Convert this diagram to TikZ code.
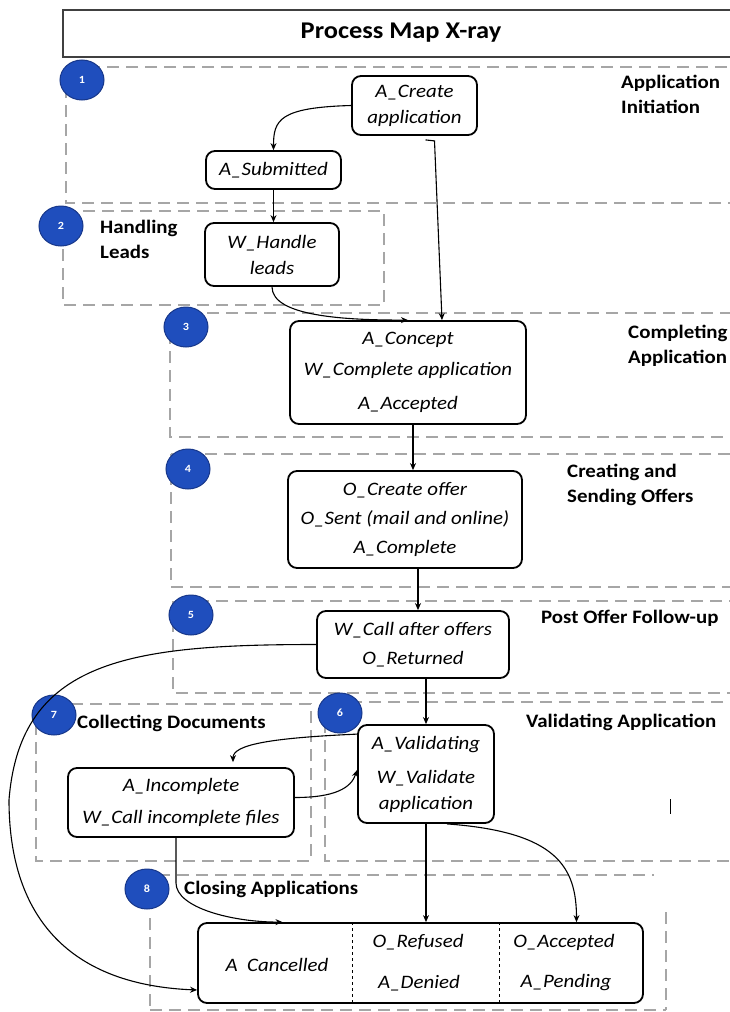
\documentclass[tikz,border=0pt]{standalone}
\usepackage{fontspec}
\setmainfont{Carlito}[FakeStretch=1.1]
\usepackage{xcolor}
\usetikzlibrary{arrows.meta,shapes.geometric,calc}
\definecolor{BadgeBlue}{HTML}{1F4EBD}
\definecolor{BadgeEdge}{HTML}{17378A}
\definecolor{RegionGray}{HTML}{A6A6A6}
\tikzset{
  stage/.style={draw, line width=1.8pt, rounded corners=9pt, align=center, inner sep=0pt,
    font=\fontsize{19}{26}\selectfont\itshape},
  cell/.style={inner sep=0pt, font=\fontsize{19}{26}\selectfont\itshape},
  region/.style={draw=RegionGray, line width=2.4pt, dash pattern=on 12pt off 7pt},
  badge/.style={ellipse, fill=BadgeBlue, draw=BadgeEdge, line width=1pt, minimum width=44pt,
    minimum height=40pt, inner sep=0pt, text=white, font=\fontsize{11}{13}\selectfont\bfseries},
  phase/.style={anchor=west, align=left, inner sep=0pt, font=\fontsize{19}{25}\selectfont\bfseries},
  flow/.style={-{Stealth[length=7pt,width=6pt]}, line width=1.1pt},
  mainflow/.style={flow, line width=1.8pt}
}

\begin{document}
\begin{tikzpicture}[x=1pt,y=-1pt]
    \useasboundingbox (0,0) rectangle (730,1012);
    \clip (0,0) rectangle (730,1012);

    \foreach \xa/\ya/\xb/\yb in {66/67/745/203, 63/211/384/305, 170/313/745/437,
      171/454/745/587, 173/601/745/693, 36/704/311/861, 325/702/745/861} {
     \draw[region] (\xa,\ya) rectangle (\xb,\yb);
    }
    \draw[region] (158,875) -- (654,875);
    \draw[region] (150,918) -- (150,1012);
    \draw[region] (666,912) -- (666,1010);
    \draw[region] (150,1010) -- (666,1010);

    \draw[draw=black!75, line width=1.4pt] (63,10) rectangle (745,57);
    \node[font=\fontsize{24}{28}\selectfont\bfseries] (title) at (401,33) {Process Map X-ray};

    \node[stage, minimum width=125pt, minimum height=59pt] (create) at (414.5,105.5) {A\_Create\\application};
    \node[stage, minimum width=135pt, minimum height=38pt] (submit) at (273.5,170) {A\_Submitted};
    \node[stage, minimum width=134pt, minimum height=63pt] (handle) at (272,254.5) {W\_Handle\\leads};
    \node[stage, minimum width=236pt, minimum height=103pt] (concept) at (408,372.5)
      {A\_Concept\\[5pt]W\_Complete application\\[8pt]A\_Accepted};
    \node[stage, minimum width=234pt, minimum height=97pt] (offer) at (405,519.5)
      {O\_Create offer\\[3pt]O\_Sent (mail and online)\\[3pt]A\_Complete};
    \node[stage, minimum width=192pt, minimum height=67pt] (follow) at (413,644.5)
      {W\_Call after offers\\[3pt]O\_Returned};
    \node[stage, minimum width=136pt, minimum height=98pt] (valid) at (426,774)
      {A\_Validating\\[8pt]W\_Validate\\application};
    \node[stage, minimum width=226pt, minimum height=69pt] (incomplete) at (181,802.5)
      {A\_Incomplete\\[6pt]W\_Call incomplete files};
    \node[stage, minimum width=445pt, minimum height=80pt] (close) at (420.5,963) {};

    \draw[dashed, line width=0.6pt] ([xshift=-68.5pt]close.north) -- ([xshift=-68.5pt]close.south);
    \draw[dashed, line width=0.6pt] ([xshift=78.5pt]close.north) -- ([xshift=78.5pt]close.south);
    \node[cell] (cancel) at (277,965) {A\ \ Cancelled};
    \node[cell] (refused) at (418,942) {O\_Refused};
    \node[cell] (denied) at (419,983) {A\_Denied};
    \node[cell] (accepted) at (564,942) {O\_Accepted};
    \node[cell] (pending) at (566,983) {A\_Pending};

    \foreach \n/\x/\y in {1/82/80, 2/61/226, 3/186/327, 4/188/469, 5/191/615, 6/340/713, 7/54/715, 8/147/889} {
     \node[badge] (badge\n) at (\x,\y) {\n};
    }

    \node[phase] (initiation) at (621,94.5) {Application\\Initiation};
    \node[phase] (leads) at (100,239.5) {Handling\\Leads};
    \node[phase] (completing) at (628,345.5) {Completing\\Application};
    \node[phase] (creating) at (567,484.5) {Creating and\\Sending Offers};
    \node[phase] (followup) at (541,618) {Post Offer Follow-up};
    \node[phase] (collecting) at (77,723) {Collecting Documents};
    \node[phase] (validating) at (526,722) {Validating Application};
    \node[phase] (closing) at (184,889) {Closing Applications};

    \draw[flow] (create.west) .. controls +(-72,2) and +(0,-30) .. (submit.north);
    \draw[flow] (submit.south) -- (submit.south |- handle.north);
    \draw[flow] ([xshift=11pt,yshift=-4pt]create.south) -- ++(9,1) -- ([xshift=34pt]concept.north);
    \draw[flow] (handle.south) .. controls +(0,30) and +(-60,0) .. (concept.north);
    \draw[mainflow] ([xshift=5pt]concept.south) -- ([xshift=5pt]concept.south |- offer.north);
    \draw[mainflow] ([xshift=13pt]offer.south) -- ([xshift=13pt]offer.south |- follow.north);
    \draw[mainflow] (valid.north |- follow.south) -- (valid.north);
    \coordinate (loop) at (9,800);
    \draw[flow] (follow.west) .. controls +(-187,0) and +(11,-140) .. (loop)
      .. controls +(0,120) and +(-125,-5) .. ([yshift=-27pt]close.west);
    \draw[flow, shorten >=5pt] ([yshift=-10pt]valid.north west) .. controls +(-90,4) and +(0,-22) .. ([xshift=52pt]incomplete.north);
    \draw[flow] ([yshift=5pt]incomplete.east) .. controls +(40,0) and +(-6,18) .. ([yshift=4pt]valid.west);
    \draw[flow] ([xshift=-5pt]incomplete.south) -- ++(0,45) .. controls +(0,25) and +(-50,0) .. ([xshift=-138pt]close.north);
    \draw[flow] (valid.south) -- (valid.south |- close.north);
    \draw[flow] ([xshift=21pt]valid.south) .. controls +(110,8) and +(0,-55) .. ([xshift=156pt]close.north);
    \draw[line width=0.8pt] (670,799) -- (670,814);
\end{tikzpicture}
\end{document}
